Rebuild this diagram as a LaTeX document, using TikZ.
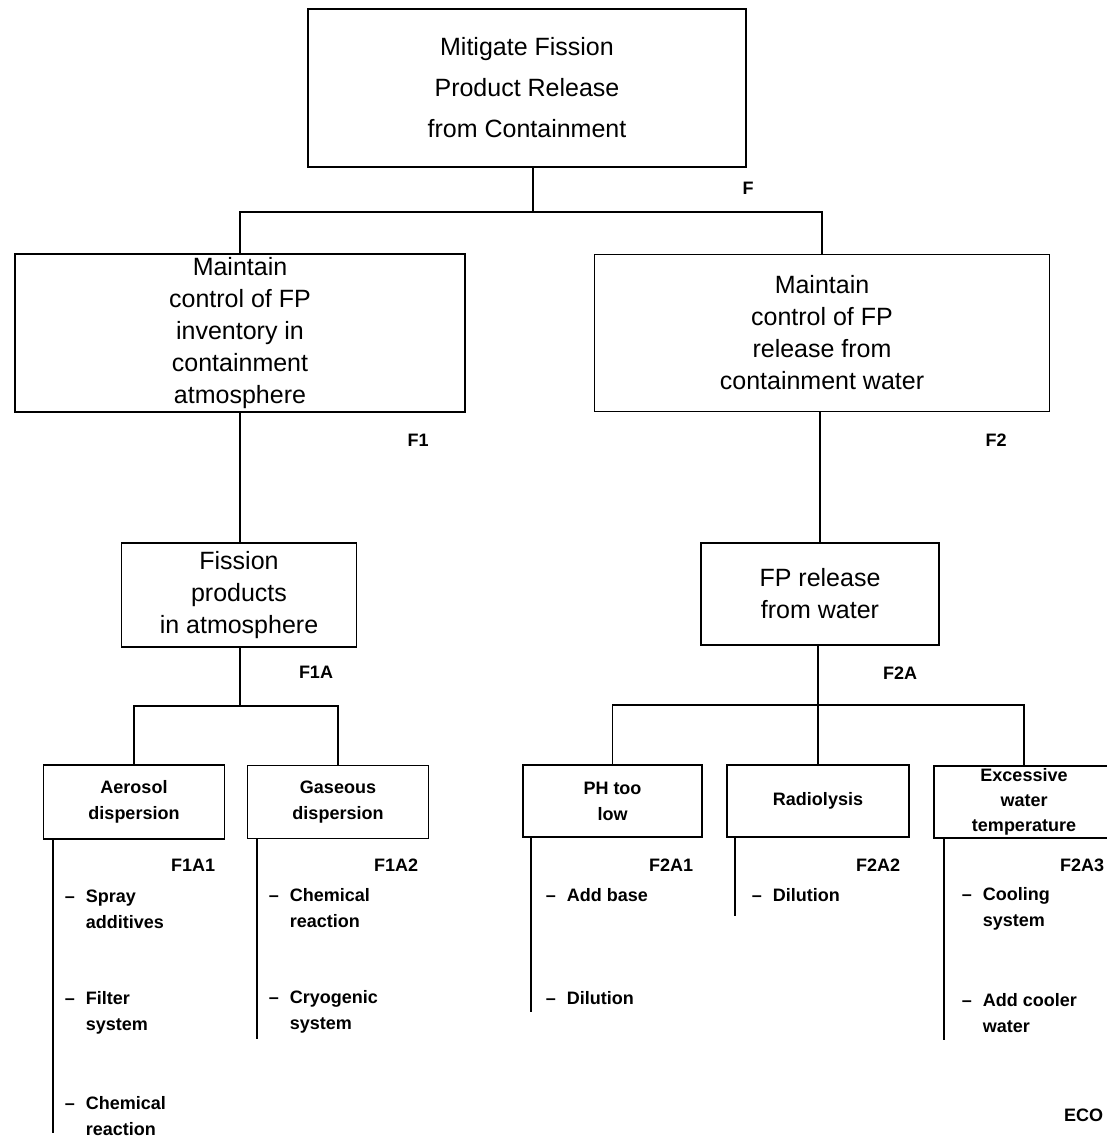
\documentclass[tikz,border=0pt]{standalone}
\usepackage{fontspec}
\setmainfont{Liberation Sans}
% leading dash and hanging indent for the measure lists
\newcommand\leaddash{\makebox[21pt][l]{–}}
\newcommand\hangin{\hspace*{21pt}}
\begin{document}
\begin{tikzpicture}[x=1pt,y=-1pt,
  line width=1.8pt,
  box/.style={draw, line width=1.8pt, inner sep=0pt, align=center},
  big/.style={font=\fontsize{25}{41}\selectfont},
  mid/.style={font=\fontsize{25}{32}\selectfont},
  small/.style={font=\bfseries\fontsize{18}{26}\selectfont},
  tag/.style={font=\bfseries\fontsize{18}{20}\selectfont, inner sep=0pt},
  lst/.style={font=\bfseries\fontsize{18}{26}\selectfont, inner sep=0pt, align=left, anchor=west},
]
\useasboundingbox (0,0) rectangle (1106,1137);
\fill[white] (0,0) rectangle (1106,1137);

% ---- boxes ----
\node[box,big,minimum width=438pt,minimum height=158pt] (top) at (527,88)
  {Mitigate Fission\\Product Release\\from Containment};
\node[box,mid,minimum width=450pt,minimum height=158pt] (f1) at (240,333)
  {Maintain\\control of FP\\inventory in\\containment\\atmosphere};
\node[box,mid,minimum width=455pt,minimum height=157pt] (f2) at (822,333)
  {Maintain\\control of FP\\release from\\containment water};
\node[box,mid,minimum width=235pt,minimum height=104pt] (fis) at (239,595)
  {Fission\\products\\in atmosphere};
\node[box,mid,minimum width=238pt,minimum height=102pt] (fpw) at (820,594)
  {FP release\\from water};
\node[box,small,minimum width=181pt,minimum height=74pt] (aer) at (134,802)
  {Aerosol\\dispersion};
\node[box,small,minimum width=181pt,minimum height=73pt] (gas) at (338,802)
  {Gaseous\\dispersion};
\node[box,small,minimum width=179pt,minimum height=72pt] (ph) at (612.5,801)
  {PH too\\low};
\node[box,small,minimum width=182pt,minimum height=72pt] (rad) at (818,801)
  {Radiolysis};
\node[box,small,font=\bfseries\fontsize{18}{25}\selectfont,minimum width=180pt,minimum height=72pt] (exc) at (1024,802)
  {Excessive\\water\\temperature};

% ---- tree connectors ----
\coordinate (fbus) at (533,212);
\draw (top.south -| fbus) -- (fbus);
\draw (f1.north) |- (fbus) -| (f2.north);
\draw (f1.south) -- (f1.south |- fis.north);
\draw (fpw.north |- f2.south) -- (fpw.north);

\coordinate (abus) at (240,706);
\draw (fis.south -| abus) -- (abus);
\draw (aer.north) |- (abus) -| (gas.north);

\coordinate (bbus) at (818,705);
\draw (fpw.south -| bbus) -- (rad.north);
\draw (ph.north) |- (bbus) -| (exc.north);

% ---- side rails under the leaf boxes ----
\coordinate (aerend) at (53,1133);
\coordinate (gasend) at (257,1039);
\coordinate (phend) at (531,1012);
\coordinate (radend) at (735,916);
\coordinate (excend) at (944,1040);
\draw (aer.south -| aerend) -- (aerend);
\draw (gas.south -| gasend) -- (gasend);
\draw (ph.south -| phend) -- (phend);
\draw (rad.south -| radend) -- (radend);
\draw (exc.south -| excend) -- (excend);

% ---- identifiers ----
\node[tag] (lF) at (748,188) {F};
\node[tag] (lF1) at (418,440) {F1};
\node[tag] (lF2) at (996,440) {F2};
\node[tag] (lF1A) at (316,672) {F1A};
\node[tag] (lF2A) at (900,673) {F2A};
\node[tag,anchor=east] (lF1A1) at (216,865) {F1A1};
\node[tag,anchor=east] (lF1A2) at (419,865) {F1A2};
\node[tag,anchor=east] (lF2A1) at (694,865) {F2A1};
\node[tag,anchor=east] (lF2A2) at (901,865) {F2A2};
\node[tag,anchor=east] (lF2A3) at (1105,865) {F2A3};
\node[tag,anchor=east] (eco) at (1104,1115) {ECO};

% ---- measures ----
\node[lst] (a1) at (64,909) {\leaddash Spray\\\hangin additives};
\node[lst] (a2) at (64,1013) {\leaddash Filter\\\hangin system};
\node[lst] (a3) at (64,1116) {\leaddash Chemical\\\hangin reaction};
\node[lst] (g1) at (268,908) {\leaddash Chemical\\\hangin reaction};
\node[lst] (g2) at (268,1012) {\leaddash Cryogenic\\\hangin system};
\node[lst] (p1) at (545,895) {\leaddash Add base};
\node[lst] (p2) at (545,998) {\leaddash Dilution};
\node[lst] (r1) at (751,895) {\leaddash Dilution};
\node[lst] (e1) at (961,909) {\leaddash Cooling\\\hangin system};
\node[lst] (e2) at (961,1013) {\leaddash Add cooler\\\hangin water};
\end{tikzpicture}
\end{document}
